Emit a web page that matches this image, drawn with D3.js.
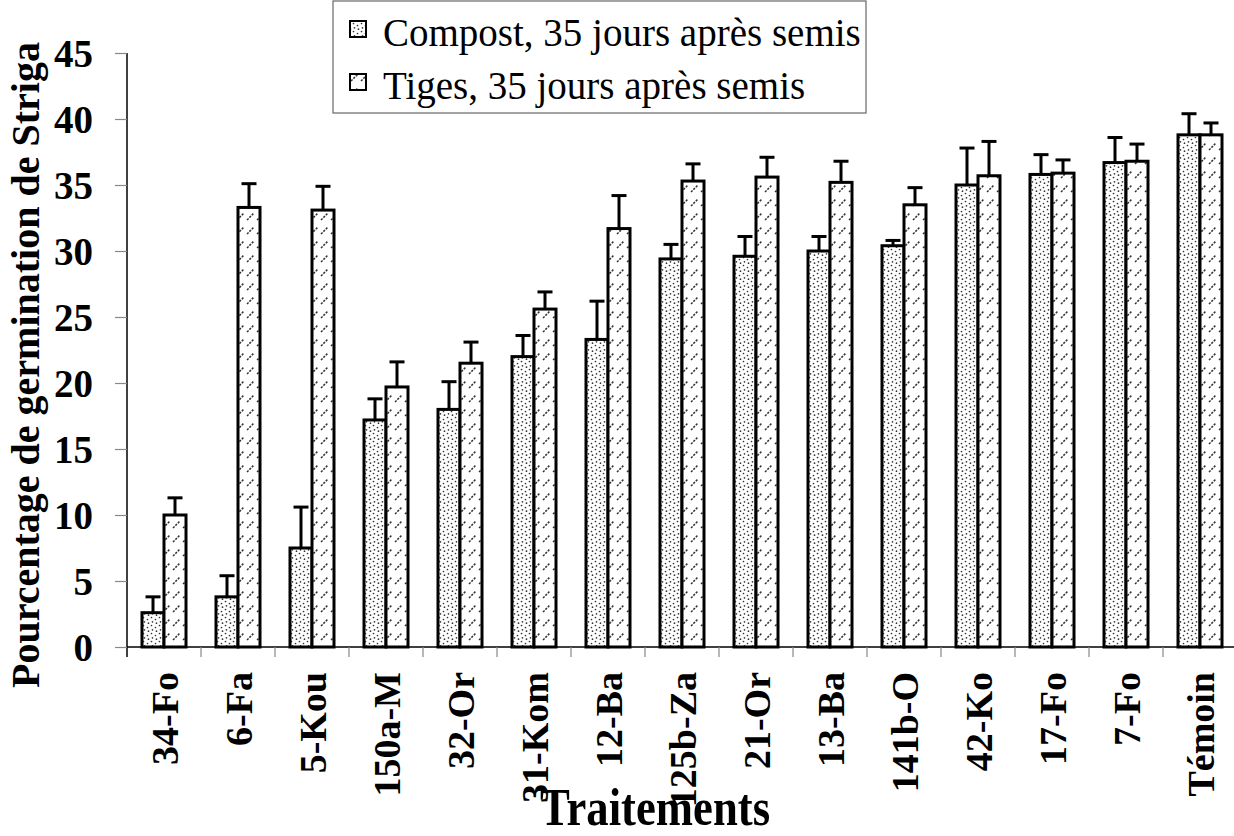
<!DOCTYPE html>
<html>
<head>
<meta charset="utf-8">
<script src="https://cdn.jsdelivr.net/npm/d3@7"></script>
<style>
  html, body { margin: 0; padding: 0; background: #fff; }
  svg { display: block; }
  text { font-family: "Liberation Serif", "Times New Roman", serif; fill: #000; }
</style>
</head>
<body>
<svg id="chart" width="1234" height="836"></svg>
<script>
// Treatments (x categories)
const categories = ["34-Fo", "6-Fa", "5-Kou", "150a-M", "32-Or", "31-Kom", "12-Ba", "125b-Za",
  "21-Or", "13-Ba", "141b-O", "42-Ko", "17-Fo", "7-Fo", "Témoin"];

// Series names
const seriesNames = ["Compost, 35 jours après semis", "Tiges, 35 jours après semis"];

// Mean germination (%) and standard error, compost series
const compostValues = [2.6, 3.8, 7.5, 17.2, 18.0, 22.0, 23.3, 29.4, 29.6, 30.0, 30.4, 35.0, 35.8, 36.7, 38.8];
const compostErrors = [1.2, 1.6, 3.1, 1.6, 2.1, 1.6, 2.9, 1.1, 1.5, 1.1, 0.4, 2.8, 1.5, 1.9, 1.6];

// Mean germination (%) and standard error, stems series
const tigesValues = [10.0, 33.3, 33.1, 19.7, 21.5, 25.6, 31.7, 35.3, 35.6, 35.2, 33.5, 35.7, 35.9, 36.8, 38.8];
const tigesErrors = [1.3, 1.8, 1.8, 1.9, 1.6, 1.3, 2.5, 1.3, 1.5, 1.6, 1.3, 2.6, 1.0, 1.3, 0.9];

// Y axis ticks
const yTicks = [0, 5, 10, 15, 20, 25, 30, 35, 40, 45];

const svg = d3.select("#chart");

// Fill patterns
const defs = svg.append("defs");
const dots = defs.append("pattern")
  .attr("id", "pat-dots").attr("patternUnits", "userSpaceOnUse")
  .attr("width", 8).attr("height", 8);
dots.append("rect").attr("width", 8).attr("height", 8).attr("fill", "#fff");
[[1.5, 1.5], [5.5, 3.5], [2.5, 5.8], [6.5, 7.2]].forEach(([cx, cy]) =>
  dots.append("circle").attr("cx", cx).attr("cy", cy).attr("r", 0.85).attr("fill", "#333"));

const dash = defs.append("pattern")
  .attr("id", "pat-dash").attr("patternUnits", "userSpaceOnUse")
  .attr("width", 10).attr("height", 14);
dash.append("rect").attr("width", 10).attr("height", 14).attr("fill", "#fff");
dash.append("line").attr("x1", 1).attr("y1", 10).attr("x2", 8).attr("y2", 3)
  .attr("stroke", "#333").attr("stroke-width", 1.5).attr("stroke-dasharray", "2.2,1.2");

const fills = ["url(#pat-dots)", "url(#pat-dash)"];

// Scales
const x0 = d3.scaleBand().domain(categories).range([127, 1237]);
const groupWidth = 44;
const x1 = d3.scaleBand().domain(seriesNames).range([0, groupWidth]);
const y = d3.scaleLinear().domain([0, 45]).range([647, 53]);

const rows = categories.map((c, i) => ({
  cat: c,
  items: [
    { s: seriesNames[0], v: compostValues[i], e: compostErrors[i] },
    { s: seriesNames[1], v: tigesValues[i], e: tigesErrors[i] }
  ]
}));

// Y axis
const yAxis = svg.append("g").attr("transform", "translate(127,0)")
  .call(d3.axisLeft(y).tickValues(yTicks).tickSize(12).tickPadding(22).tickFormat(d3.format("d")));
yAxis.select(".domain").attr("stroke", "#000").attr("stroke-width", 1.5).attr("d", "M0,53V657");
yAxis.selectAll(".tick line").attr("stroke", "#888").attr("stroke-width", 1.2);
yAxis.selectAll(".tick text")
  .attr("font-size", 39).attr("font-weight", "bold")
  .attr("font-family", "Liberation Serif, Times New Roman, serif").attr("dy", "0.34em");

// Groups of bars
const groups = svg.append("g").selectAll("g").data(rows).join("g")
  .attr("transform", d => `translate(${x0(d.cat) + (x0.bandwidth() - groupWidth) / 2},0)`);

groups.selectAll("rect").data(d => d.items).join("rect")
  .attr("x", d => x1(d.s))
  .attr("y", d => y(d.v))
  .attr("width", x1.bandwidth())
  .attr("height", d => y(0) - y(d.v))
  .attr("fill", (d, i) => fills[i])
  .attr("stroke", "#000").attr("stroke-width", 3);

// Error bars (upper half only)
const eb = groups.selectAll("g.err").data(d => d.items).join("g").attr("class", "err");
eb.append("line")
  .attr("x1", d => x1(d.s) + x1.bandwidth() / 2).attr("x2", d => x1(d.s) + x1.bandwidth() / 2)
  .attr("y1", d => y(d.v)).attr("y2", d => y(d.v + d.e))
  .attr("stroke", "#000").attr("stroke-width", 3);
eb.append("line")
  .attr("x1", d => x1(d.s) + x1.bandwidth() / 2 - 7.5).attr("x2", d => x1(d.s) + x1.bandwidth() / 2 + 7.5)
  .attr("y1", d => y(d.v + d.e)).attr("y2", d => y(d.v + d.e))
  .attr("stroke", "#000").attr("stroke-width", 3);

// X axis
const xAxis = svg.append("g").attr("transform", "translate(0,647)")
  .call(d3.axisBottom(x0).tickSize(0).tickPadding(0));
xAxis.select(".domain").attr("stroke", "#000").attr("stroke-width", 1.5).attr("d", "M127,0H1237");
xAxis.selectAll(".tick text")
  .attr("font-size", 38).attr("font-weight", "bold")
  .attr("font-family", "Liberation Serif, Times New Roman, serif")
  .attr("text-anchor", "end")
  .attr("transform", "rotate(-90)")
  .attr("x", -25).attr("y", 14).attr("dy", 0);
// Boundary ticks between categories
xAxis.append("g").selectAll("line").data(categories).join("line")
  .attr("x1", d => x0(d) + x0.bandwidth()).attr("x2", d => x0(d) + x0.bandwidth())
  .attr("y1", 0).attr("y2", 10)
  .attr("stroke", "#888").attr("stroke-width", 1.2);

// Axis titles
svg.append("text")
  .attr("transform", "translate(39,365) rotate(-90)")
  .attr("text-anchor", "middle")
  .attr("font-size", 40).attr("font-weight", "bold")
  .text("Pourcentage de germination de Striga");

svg.append("text")
  .attr("transform", "translate(655,825) scale(0.86,1)")
  .attr("text-anchor", "middle")
  .attr("font-size", 52).attr("font-weight", "bold")
  .text("Traitements");

// Legend
const legend = svg.append("g");
legend.append("rect").attr("x", 333).attr("y", 1).attr("width", 533).attr("height", 112)
  .attr("fill", "#fff").attr("stroke", "#666").attr("stroke-width", 1.2);
const li = legend.selectAll("g").data(seriesNames).join("g")
  .attr("transform", (d, i) => `translate(0,${46 + i * 53})`);
li.append("rect").attr("x", 350).attr("y", -25).attr("width", 16).attr("height", 16)
  .attr("fill", (d, i) => fills[i]).attr("stroke", "#000").attr("stroke-width", 2);
li.append("text").attr("x", 383).attr("y", 0)
  .attr("font-size", 39)
  .text(d => d);
</script>
</body>
</html>
